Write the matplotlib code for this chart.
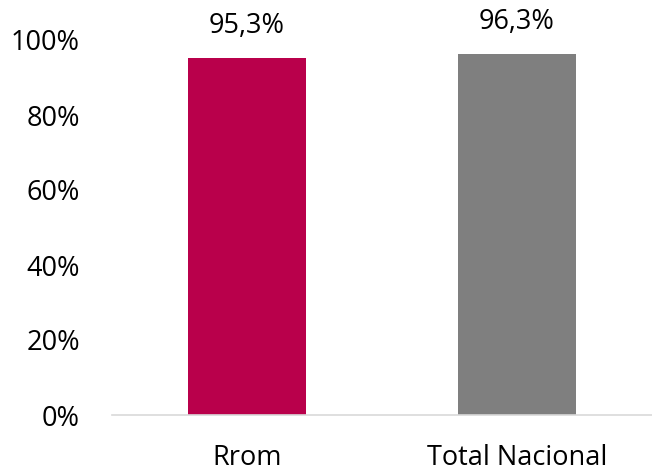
import matplotlib
matplotlib.use("Agg")
import matplotlib.pyplot as plt
from matplotlib.ticker import FuncFormatter

categories = ["Rrom", "Total Nacional"]
values = [0.953, 0.963]
value_labels = ["95,3%", "96,3%"]
colors = ["#B9004B", "#7F7F7F"]
yticks = [0, 0.2, 0.4, 0.6, 0.8, 1.0]

plt.rcParams['font.family'] = ['Open Sans', 'DejaVu Sans']

fig = plt.figure(figsize=(6.52, 4.71), dpi=100)
ax = fig.add_axes([112/652, 1-415/471, 1-112/652, (415-40)/471])

x = list(range(len(categories)))
bars = ax.bar(x, values, width=0.44, color=colors)
for b, lab in zip(bars, value_labels):
    ax.annotate(lab, (b.get_x()+b.get_width()/2, b.get_height()),
                xytext=(0, 13), textcoords="offset points",
                ha="center", va="bottom", fontsize=19.5, color="#000000",
                annotation_clip=False)

ax.set_xlim(-0.5, 1.5)
ax.set_ylim(0, 1.0)
ax.set_yticks(yticks)
ax.yaxis.set_major_formatter(FuncFormatter(lambda v, p: f"{v*100:.0f}%"))
ax.set_xticks(x)
ax.set_xticklabels(categories)
ax.tick_params(axis='y', length=0, pad=23, labelsize=19.5)
ax.tick_params(axis='x', length=0, pad=21, labelsize=19.5)
for s in ["top", "right", "left"]:
    ax.spines[s].set_visible(False)
ax.spines["bottom"].set_color("#D9D9D9")
ax.spines["bottom"].set_linewidth(1.2)

fig.savefig("out.png", dpi=100)
